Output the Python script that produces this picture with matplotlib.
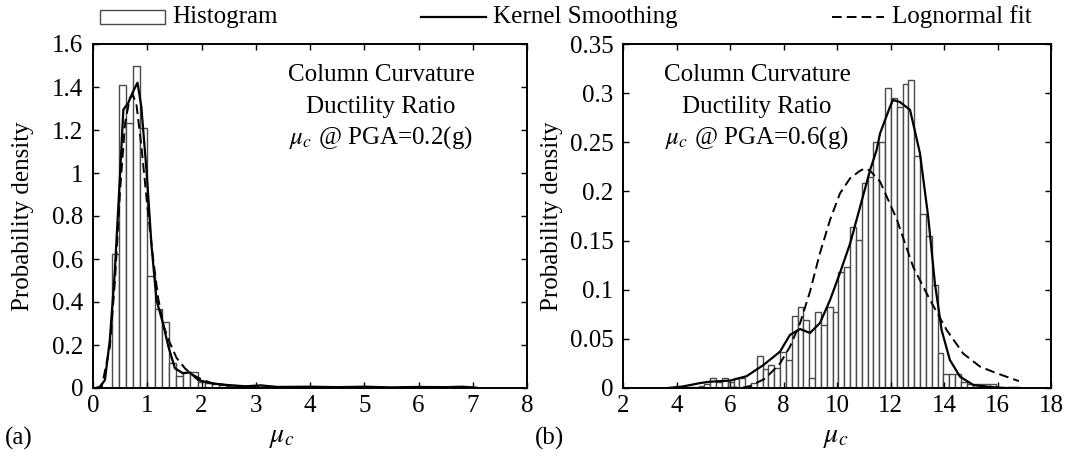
import numpy as np
import matplotlib
matplotlib.use('Agg')
import matplotlib.pyplot as plt
from matplotlib.patches import Rectangle
from matplotlib.lines import Line2D

plt.rcParams['font.family'] = ['Liberation Serif', 'DejaVu Serif']
plt.rcParams['mathtext.fontset'] = 'stix'
plt.rcParams['font.size'] = 18

# ---- (a) PGA = 0.2 g ----
a_bin_start = 0.344
a_bin_width = 0.132
a_hist = [0.623, 1.408, 1.233, 1.50, 1.21, 0.522, 0.368, 0.309, 0.115, 0.056,
          0.076, 0.076, 0.030, 0.025, 0.020, 0.012, 0.008, 0.006, 0.004, 0.004,
          0.012, 0.006, 0.003, 0.004, 0.002, 0.004, 0.003, 0.002, 0.0, 0.002,
          0.003, 0.002, 0.004, 0.0, 0.002, 0.004, 0.002, 0.0, 0.002, 0.0,
          0.003, 0.0, 0.002, 0.0, 0.003, 0.002, 0.0, 0.003, 0.002, 0.0, 0.003]
a_kern_x = [0.05, 0.12, 0.22, 0.31, 0.40, 0.50, 0.56, 0.65, 0.74, 0.82, 0.89, 0.99,
            1.08, 1.17, 1.29, 1.39, 1.51, 1.66, 1.78, 1.94, 2.18, 2.43, 2.8, 3.1,
            3.4, 4.0, 4.5, 5.0, 5.5, 6.0, 6.5, 6.8, 7.0, 7.1]
a_kern_y = [0.0, 0.004, 0.037, 0.224, 0.534, 1.0, 1.295, 1.326, 1.38, 1.42, 1.31, 1.0,
            0.658, 0.41, 0.30, 0.192, 0.092, 0.068, 0.073, 0.037, 0.022, 0.015, 0.008, 0.012,
            0.005, 0.006, 0.004, 0.006, 0.003, 0.005, 0.004, 0.006, 0.003, 0.0]
a_logn_x = [0.05, 0.16, 0.31, 0.405, 0.50, 0.59, 0.68, 0.74, 0.80, 0.89, 1.0, 1.1,
            1.2, 1.3, 1.4, 1.54, 1.7, 1.85, 2.0, 2.2, 2.5, 3.0, 4.0, 5.0, 6.0, 7.0]
a_logn_y = [0.0, 0.005, 0.19, 0.50, 0.92, 1.23, 1.35, 1.36, 1.32, 1.13, 0.85, 0.62,
            0.42, 0.29, 0.22, 0.14, 0.09, 0.06, 0.04, 0.022, 0.012, 0.004, 0.001, 0.0, 0.0, 0.0]

# ---- (b) PGA = 0.6 g ----
b_bin_start = 3.733
b_bin_width = 0.218
b_hist = [0.001, 0.002, 0.0, 0.001, 0.001, 0.002, 0.004, 0.0098, 0.0064, 0.0098,
          0.0064, 0.0098, 0.0098, 0.0013, 0.0054, 0.0326, 0.019, 0.0234, 0.020, 0.037,
          0.0285, 0.0736, 0.0828, 0.069, 0.0098, 0.0777, 0.064, 0.082, 0.0777, 0.118,
          0.123, 0.1635, 0.1506, 0.209, 0.215, 0.25, 0.25, 0.305, 0.295, 0.286,
          0.309, 0.313, 0.236, 0.177, 0.155, 0.105, 0.036, 0.014, 0.014, 0.014,
          0.0066, 0.004, 0.004, 0.004, 0.004, 0.004, 0.0, 0.0, 0.001, 0.001]
b_kern_x = [3.7, 4.13, 4.88, 5.25, 6.0, 6.62, 7.25, 7.87, 8.24, 8.62, 8.99, 9.36,
            9.74, 10.11, 10.49, 10.86, 11.24, 11.48, 11.61, 11.98, 12.09, 12.35, 12.73, 13.10,
            13.41, 13.66, 13.91, 14.22, 14.6, 15.1, 15.72, 16.3, 16.8]
b_kern_y = [0.0, 0.001, 0.005, 0.0064, 0.0075, 0.012, 0.0234, 0.037, 0.054, 0.060, 0.056, 0.066,
            0.0895, 0.117, 0.147, 0.184, 0.222, 0.242, 0.259, 0.286, 0.293, 0.291, 0.283, 0.239,
            0.174, 0.1065, 0.059, 0.0285, 0.0115, 0.003, 0.001, 0.0, 0.0]
b_logn_x = [3.7, 5.5, 6.5, 6.75, 7.31, 7.62, 7.87, 8.24, 8.62, 8.99, 9.36, 9.74,
            10.11, 10.49, 10.86, 11.05, 11.24, 11.61, 12.23, 12.85, 13.48, 14.1, 14.72, 15.35,
            15.97, 16.8]
b_logn_y = [0.0, 0.0, 0.0005, 0.002, 0.0095, 0.018, 0.025, 0.042, 0.066, 0.098, 0.137, 0.171,
            0.198, 0.2134, 0.221, 0.2235, 0.221, 0.210, 0.172, 0.123, 0.0895, 0.059, 0.035, 0.0217,
            0.015, 0.007]

a_xticks = [0, 1, 2, 3, 4, 5, 6, 7, 8]
a_yticks = [0, 0.2, 0.4, 0.6, 0.8, 1.0, 1.2, 1.4, 1.6]
a_ylabels = ['0', '0.2', '0.4', '0.6', '0.8', '1', '1.2', '1.4', '1.6']
b_xticks = [2, 4, 6, 8, 10, 12, 14, 16, 18]
b_yticks = [0, 0.05, 0.1, 0.15, 0.2, 0.25, 0.3, 0.35]
b_ylabels = ['0', '0.05', '0.1', '0.15', '0.2', '0.25', '0.3', '0.35']

legend_labels = ['Histogram', 'Kernel Smoothing', 'Lognormal fit']

dash = (0, (5, 2.6))
W, H = 1078, 459

fig = plt.figure(figsize=(W / 100, H / 100), dpi=100)
ax1 = fig.add_axes([93/W, 1 - 388/H, 434/W, 344/H])
ax2 = fig.add_axes([623/W, 1 - 388/H, 428/W, 344/H])

panels = [
    (ax1, a_bin_start, a_bin_width, a_hist, a_kern_x, a_kern_y, a_logn_x, a_logn_y,
     a_xticks, a_yticks, a_ylabels, (0, 8), (0, 1.6), '0.2', 0.664),
    (ax2, b_bin_start, b_bin_width, b_hist, b_kern_x, b_kern_y, b_logn_x, b_logn_y,
     b_xticks, b_yticks, b_ylabels, (2, 18), (0, 0.35), '0.6', 0.313),
]

for (ax, start, width, hist, kx, ky, lx, ly, xt, yt, yl, xlim, ylim, pga, tx) in panels:
    edges = start + width * np.arange(len(hist))
    ax.bar(edges, hist, width=width, align='edge', facecolor='white',
           edgecolor='#4a4a4a', linewidth=1.0, zorder=1)
    ax.plot(kx, ky, color='black', lw=1.6, zorder=3)
    ax.plot(lx, ly, color='black', lw=1.4, linestyle=dash, zorder=3)
    ax.set_xlim(*xlim)
    ax.set_ylim(*ylim)
    ax.set_xticks(xt)
    ax.set_yticks(yt)
    ax.set_yticklabels(yl)
    ax.tick_params(direction='in', top=True, right=True, length=4, width=1,
                   labelsize=18)
    ax.tick_params(axis='x', pad=5)
    ax.tick_params(axis='y', pad=7)
    for s in ax.spines.values():
        s.set_linewidth(1.4)
    ax.set_ylabel('Probability density', fontsize=18)
    ax.text(tx, 0.91, 'Column Curvature', transform=ax.transAxes, ha='center', va='center')
    ax.text(tx, 0.817, 'Ductility Ratio', transform=ax.transAxes, ha='center', va='center')
    ax.text(tx, 0.727, r'$\mu_c$ @ PGA=' + pga + '(g)', transform=ax.transAxes,
            ha='center', va='center')

ax1.yaxis.set_label_coords(-0.136, 0.5)
ax2.yaxis.set_label_coords(-0.140, 0.5)

# x labels and panel tags on one row below the axes
row_y = 1 - 438/H
fig.text(282/W, row_y, r'$\mu_c$', ha='center', va='center', fontsize=20)
fig.text(836/W, row_y, r'$\mu_c$', ha='center', va='center', fontsize=20)
fig.text(19/W, row_y, '(a)', ha='center', va='center', fontsize=18)
fig.text(550/W, row_y, '(b)', ha='center', va='center', fontsize=18)

# legend across the top
ly0 = 1 - 17/H
fig.patches.append(Rectangle((100/W, 1 - 24/H), 65/W, 14/H,
                             transform=fig.transFigure, facecolor='white',
                             edgecolor='#4a4a4a', linewidth=1.0))
fig.text(172/W, ly0, legend_labels[0], ha='left', va='center', fontsize=18)
fig.lines.append(Line2D([421/W, 486/W], [ly0, ly0], transform=fig.transFigure,
                        color='black', lw=1.6))
fig.text(493/W, ly0, legend_labels[1], ha='left', va='center', fontsize=18)
fig.lines.append(Line2D([832/W, 884/W], [ly0, ly0], transform=fig.transFigure,
                        color='black', lw=1.4, linestyle=dash))
fig.text(892/W, ly0, legend_labels[2], ha='left', va='center', fontsize=18)

fig.savefig('out.png', dpi=100)
